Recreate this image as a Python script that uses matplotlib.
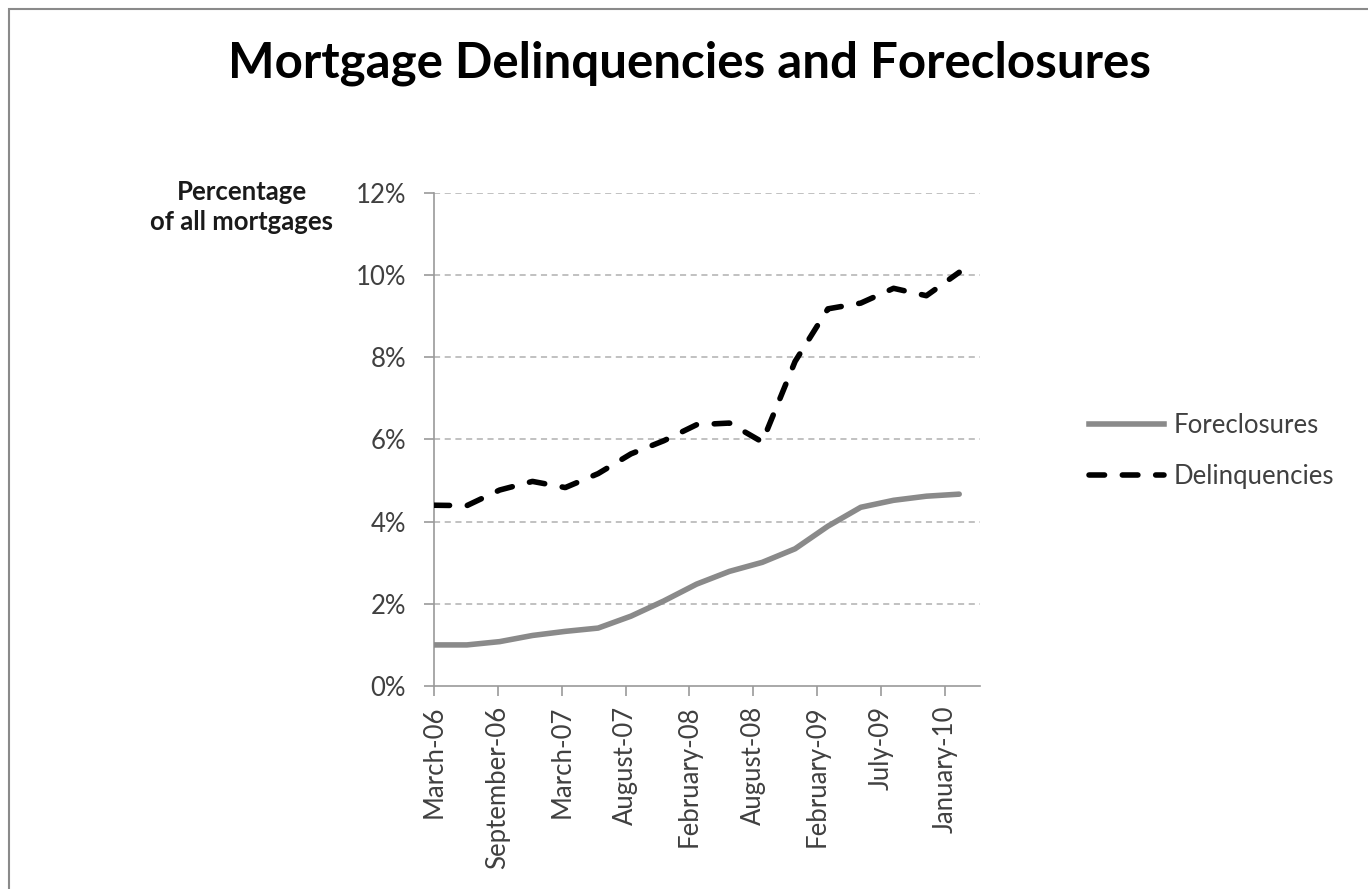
import numpy as np
import matplotlib
matplotlib.use("Agg")
import matplotlib.pyplot as plt
from matplotlib.lines import Line2D
from matplotlib.patches import Rectangle

# ---- data (quarterly observations, percent of all mortgages) ----
quarters = ["Mar-06", "Jun-06", "Sep-06", "Dec-06", "Mar-07", "Jun-07", "Sep-07", "Dec-07",
            "Mar-08", "Jun-08", "Sep-08", "Dec-08", "Mar-09", "Jun-09", "Sep-09", "Dec-09", "Mar-10"]
months_from_start = [0, 3, 6, 9, 12, 15, 18, 21, 24, 27, 30, 33, 36, 39, 42, 45, 48]
foreclosures = [1.00, 1.00, 1.08, 1.23, 1.33, 1.41, 1.70, 2.07, 2.48, 2.79, 3.01, 3.34,
                3.89, 4.35, 4.52, 4.62, 4.67]
delinquencies = [4.40, 4.39, 4.77, 4.98, 4.83, 5.17, 5.65, 5.97, 6.36, 6.40, 5.94, 7.90,
                 9.18, 9.32, 9.68, 9.50, 10.07]
tick_labels = ["March-06", "September-06", "March-07", "August-07", "February-08",
               "August-08", "February-09", "July-09", "January-10"]
tick_months = [0.0, 5.835, 11.67, 17.505, 23.34, 29.175, 35.01, 40.845, 46.68]
y_ticks = [0, 2, 4, 6, 8, 10, 12]

FONT = ["Lato", "DejaVu Sans"]
plt.rcParams["font.family"] = FONT

W, H = 1368, 889
fig = plt.figure(figsize=(W / 100, H / 100), dpi=100)
fig.patch.set_facecolor("white")

# outer chart frame
fig.add_artist(Rectangle((8.5 / W, -0.05), 1.2, (H - 8.5) / H + 0.05, transform=fig.transFigure,
                         fill=False, edgecolor="#8a8a8a", linewidth=1.5))

ax = fig.add_axes([434 / W, (H - 686) / H, (980 - 434) / W, (686 - 193) / H])
ax.set_xlim(0, 49.9)
ax.set_ylim(0, 12)

ax.set_yticks(y_ticks)
ax.set_yticklabels([f"{v}%" for v in y_ticks])
ax.set_xticks(tick_months)
ax.set_xticklabels(tick_labels, rotation=90)

for v in y_ticks[1:]:
    ax.axhline(v, color="#b0b0b0", linewidth=1.1, linestyle=(0, (4, 3)), zorder=0)

for s in ["top", "right"]:
    ax.spines[s].set_visible(False)
for s in ["left", "bottom"]:
    ax.spines[s].set_color("#9a9a9a")
    ax.spines[s].set_linewidth(1.2)

ax.tick_params(axis="both", colors="#9a9a9a", length=7, width=1.2, labelcolor="#404040",
               labelsize=18.5)
ax.tick_params(axis="y", pad=13)
ax.tick_params(axis="x", pad=7)

ax.plot(months_from_start, foreclosures, color="#8a8a8a", linewidth=4.0,
        solid_capstyle="round", solid_joinstyle="round", zorder=3)
ax.plot(months_from_start, delinquencies, color="black", linewidth=4.0,
        dashes=(2.8, 3.2), dash_capstyle="round", zorder=4)

# title
fig.text(689 / W, 1 - 63 / H, "Mortgage Delinquencies and Foreclosures", ha="center",
         va="center", fontsize=35.5, fontweight="bold", color="black")

# y-axis label
fig.text(242 / W, 1 - 207 / H, "Percentage\nof all mortgages", ha="center", va="center",
         fontsize=18.5, fontweight="bold", color="#1a1a1a", linespacing=1.3)

# legend
handles = [Line2D([], [], color="#8a8a8a", linewidth=4.0),
           Line2D([], [], color="black", linewidth=4.0, dashes=(2.8, 3.2), dash_capstyle="round")]
leg = fig.legend(handles, ["Foreclosures", "Delinquencies"], loc="center left",
                 bbox_to_anchor=(1066 / W, 1 - 451 / H), frameon=False, fontsize=18.5,
                 handlelength=2.9, handletextpad=0.4, labelspacing=1.0)
for t in leg.get_texts():
    t.set_color("#404040")

fig.savefig("out.png", dpi=100)
